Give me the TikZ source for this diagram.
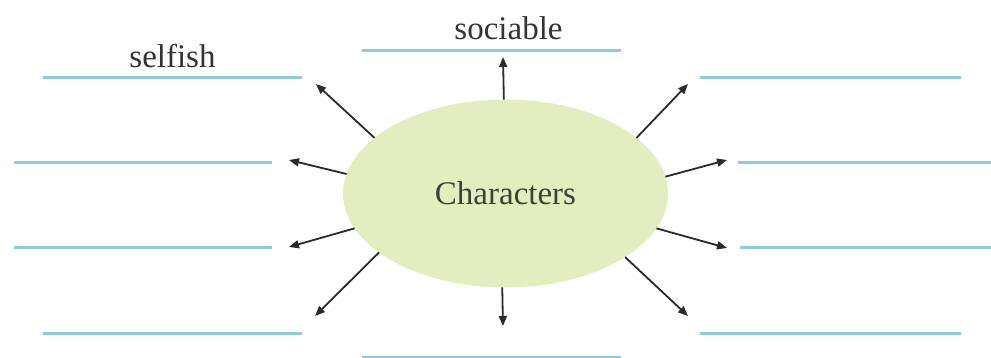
\documentclass[tikz,border=0pt]{standalone}
\usepackage{fontspec}
\setmainfont{Liberation Serif}
\usetikzlibrary{arrows.meta,shapes.geometric}
\definecolor{blankblue}{HTML}{8CCBE0}
\definecolor{ovalfill}{HTML}{E4EDC0}
\definecolor{txtgray}{HTML}{333333}
\definecolor{txtolive}{HTML}{3A4432}
\definecolor{arrowgray}{HTML}{2A2A2A}
\tikzset{
  blank/.style={draw=blankblue, line width=3pt},
  arr/.style={draw=arrowgray, line width=1.8pt, -{Triangle[length=10pt,width=8pt]}},
  oval/.style={ellipse, fill=ovalfill, draw=none, minimum width=325pt, minimum height=188pt, inner sep=0pt, outer sep=0pt},
  lbl/.style={anchor=base, text=txtgray, font=\fontsize{33}{36}\selectfont, inner sep=0pt},
}
\begin{document}
\begin{tikzpicture}[x=1pt,y=-1pt]
\useasboundingbox (0,0) rectangle (991,358);
% blank lines
\draw[blank] (362,51) -- (621,51);
\draw[blank] (43,78) -- (302,78);
\draw[blank] (700,78) -- (961,78);
\draw[blank] (14,163) -- (272,163);
\draw[blank] (738,163) -- (991,163);
\draw[blank] (14,248) -- (272,248);
\draw[blank] (740,248) -- (991,248);
\draw[blank] (43,333) -- (302,333);
\draw[blank] (700,333) -- (961,333);
\draw[blank] (362,357.5) -- (621,357.5);
% labels
\node[lbl] (selfish) at (172.5,68) {selfish};
\node[lbl] (sociable) at (508.5,40) {sociable};
% centre
\node[oval, text=txtolive, font=\fontsize{33}{36}\selectfont] (ch) at (505.5,193.5) {Characters};
% arrow ends
\coordinate (eT) at (503,57);
\coordinate (eTL) at (316,84);
\coordinate (eTR) at (688,84);
\coordinate (eL1) at (289,160);
\coordinate (eR1) at (727,160);
\coordinate (eL2) at (289,247);
\coordinate (eR2) at (727,248);
\coordinate (eBL) at (315,316);
\coordinate (eBR) at (688,316);
\coordinate (eB) at (503,326);
% arrows
\draw[arr] (ch.91.5) -- (eT);
\draw[arr] (ch.157.9) -- (eTL);
\draw[arr] (ch.23.8) -- (eTR);
\draw[arr] (ch.173.4) -- (eL1);
\draw[arr] (ch.6.5) -- (eR1);
\draw[arr] (ch.193.1) -- (eL2);
\draw[arr] (ch.347.3) -- (eR2);
\draw[arr] (ch.205.9) -- (eBL);
\draw[arr] (ch.332.6) -- (eBR);
\draw[arr] (ch.268.5) -- (eB);
\end{tikzpicture}
\end{document}
